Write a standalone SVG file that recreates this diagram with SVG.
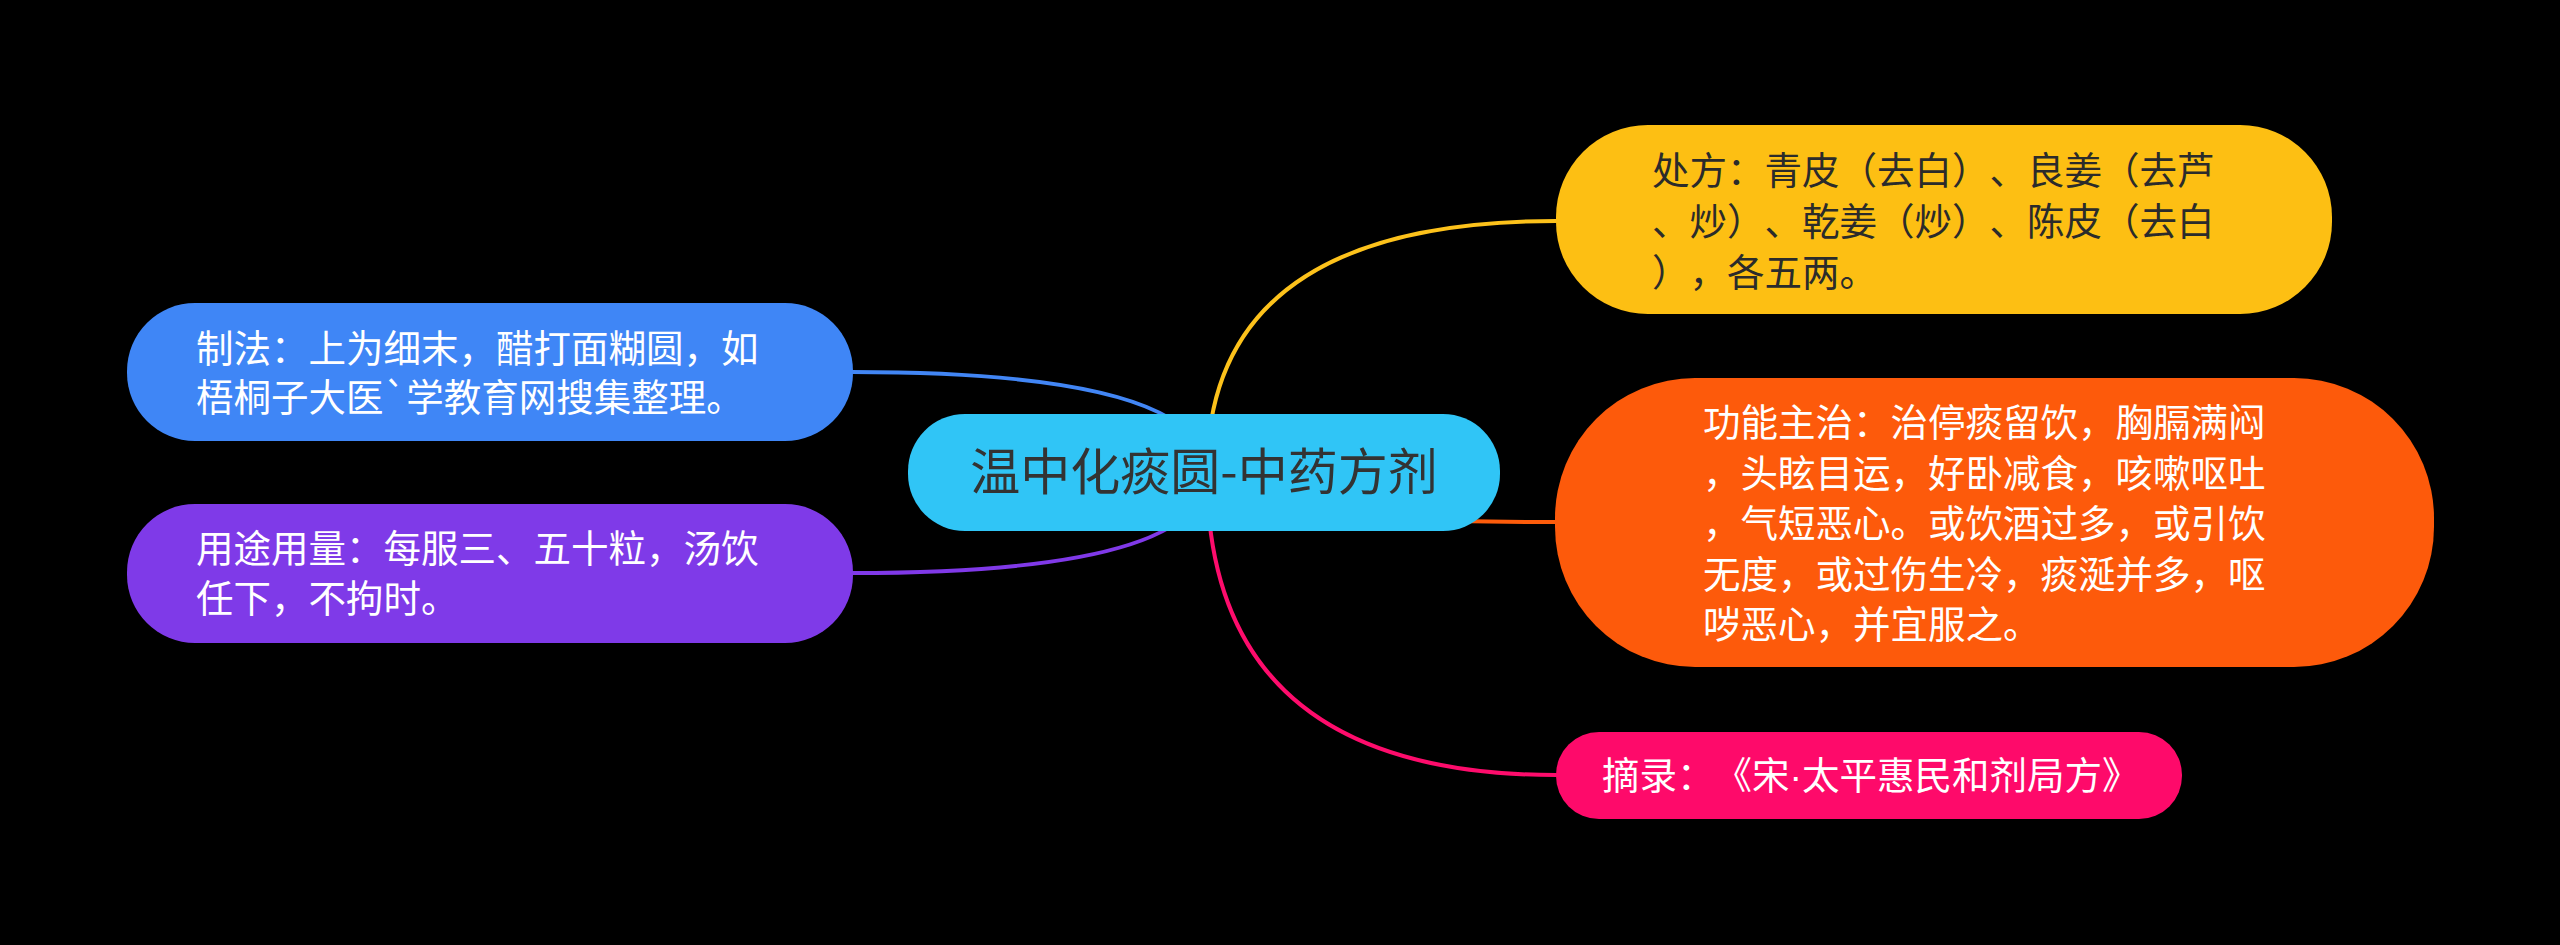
<svg xmlns="http://www.w3.org/2000/svg" width="2560" height="945" viewBox="0 0 2560 945">
<style>
text{font-family:"Noto Sans CJK SC","Noto Sans",sans-serif;text-spacing-trim:space-all;font-feature-settings:"halt" 0,"palt" 0;}
.t{font-size:37.5px;fill:#ffffff;}
.d{font-size:37.5px;fill:#2b2b2b;}
.c{font-size:50px;fill:#333333;}
.n{font-family:"Liberation Sans",sans-serif;}
.ln{fill:none;stroke-width:4;stroke-linecap:round;}
</style>
<rect x="0" y="0" width="2560" height="945" fill="#000000"/>
<g id="connectors">
<path class="ln" stroke="#FDC21B" d="M1207 473 Q1207 221 1556 221"/>
<path class="ln" stroke="#FD5C0B" d="M1207 473 Q1207 522 1556 522"/>
<path class="ln" stroke="#FE0C6C" d="M1207 473 Q1207 775 1556 775"/>
<path class="ln" stroke="#4286F5" d="M1207 473 Q1207 372 852 372"/>
<path class="ln" stroke="#8039E8" d="M1207 473 Q1207 573 852 573"/>
</g>
<g id="node-root">
<rect x="908" y="414" width="592" height="117" rx="57" fill="#30C5F6"/>
<text class="c" x="1204" y="490" text-anchor="middle">温中化痰圆-中药方剂</text>
</g>
<g id="node-prescription">
<rect x="1556" y="125" width="776" height="189" rx="92" fill="#FDBF13"/>
<text class="d" x="1652" y="184">处方：青皮（去白）、良姜（去芦</text>
<text class="d" x="1652" y="235">、炒）、乾姜（炒）、陈皮（去白</text>
<text class="d" x="1652" y="286">），各五两。</text>
</g>
<g id="node-function">
<rect x="1555" y="378" width="879" height="289" rx="140" fill="#FD5A0B"/>
<text class="t" x="1703" y="436">功能主治：治停痰留饮，胸膈满闷</text>
<text class="t" x="1703" y="486.5">，头眩目运，好卧减食，咳嗽呕吐</text>
<text class="t" x="1703" y="537">，气短恶心。或饮酒过多，或引饮</text>
<text class="t" x="1703" y="587.5">无度，或过伤生冷，痰涎并多，呕</text>
<text class="t" x="1703" y="638">哕恶心，并宜服之。</text>
</g>
<g id="node-source">
<rect x="1556" y="732" width="626" height="87" rx="43" fill="#FE0A6A"/>
<text class="t" x="1602" y="789">摘录：《宋<tspan class="n">·</tspan>太平惠民和剂局方》</text>
</g>
<g id="node-method">
<rect x="127" y="303" width="726" height="138" rx="68" fill="#3F86F6"/>
<text class="t" x="196" y="362">制法：上为细末，醋打面糊圆，如</text>
<text class="t" x="196" y="411">梧桐子大医`学教育网搜集整理。</text>
</g>
<g id="node-usage">
<rect x="127" y="504" width="726" height="139" rx="68" fill="#7F3AE8"/>
<text class="t" x="196" y="562">用途用量：每服三、五十粒，汤饮</text>
<text class="t" x="196" y="612">任下，不拘时。</text>
</g>
</svg>
